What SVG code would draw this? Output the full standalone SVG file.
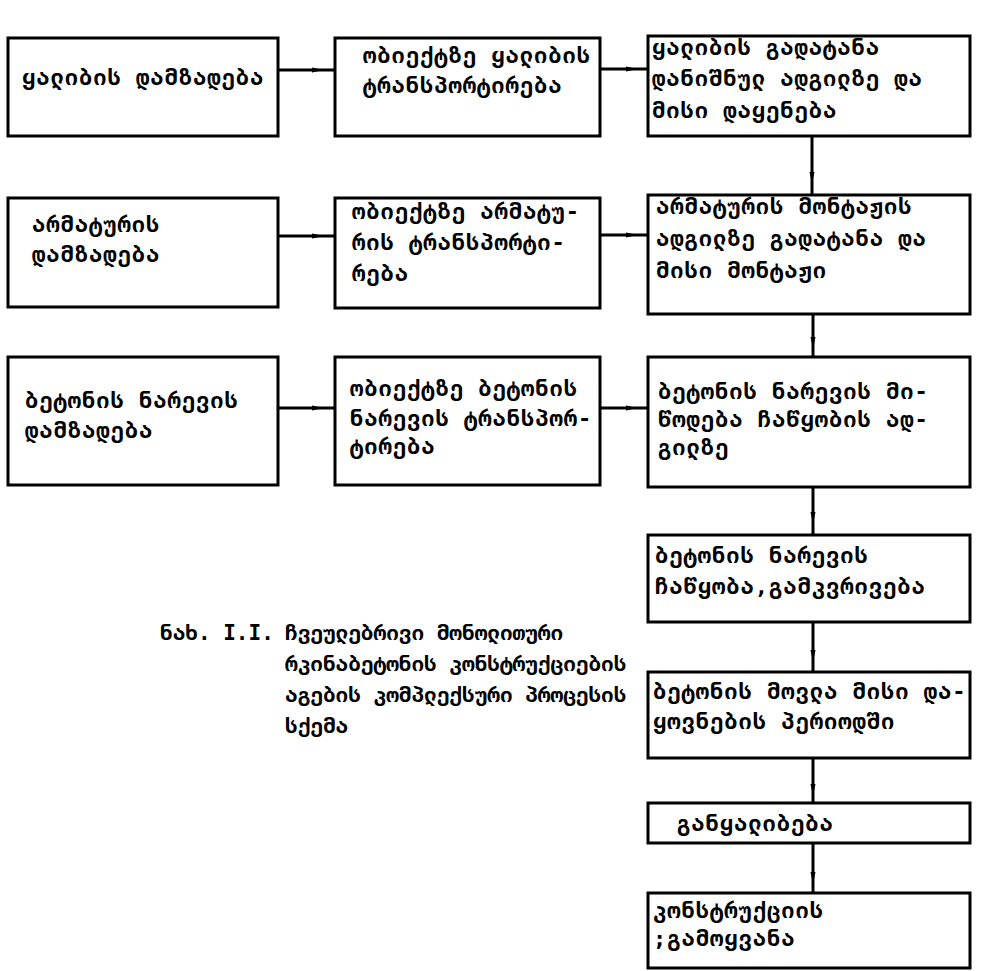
<svg xmlns="http://www.w3.org/2000/svg" width="982" height="971" viewBox="0 0 982 971">
<style>
.box{fill:#fff;stroke:#000;stroke-width:3}
.t{font-family:"DejaVu Sans Mono","DejaVu Sans",monospace;font-size:22px;font-weight:bold;letter-spacing:1px;fill:#000}
.c{font-family:"DejaVu Sans Mono","DejaVu Sans",monospace;font-size:21px;font-weight:bold;fill:#000}
.ln{fill:none;stroke:#000;stroke-width:3;marker-mid:url(#ah)}
</style>
<defs>
<marker id="ah" viewBox="0 0 12 6" refX="6" refY="3" markerWidth="12" markerHeight="6" markerUnits="userSpaceOnUse" orient="auto"><path d="M0,0.5 L12,3 L0,5.5 Z" fill="#000"/></marker>
</defs>
<rect width="982" height="971" fill="#fff"/>
<g id="connectors">
<path class="ln" d="M278,70 L318,70 L335,70"/>
<path class="ln" d="M600,69 L632,69 L648,69"/>
<path class="ln" d="M278,236 L318,236 L335,236"/>
<path class="ln" d="M600,235 L632,235 L648,235"/>
<path class="ln" d="M278,408 L318,408 L335,408"/>
<path class="ln" d="M600,408 L632,408 L648,408"/>
<path class="ln" d="M812,136 L812,178 L812,196"/>
<path class="ln" d="M813,314 L813,343 L813,357"/>
<path class="ln" d="M813,487 L813,518 L813,535"/>
<path class="ln" d="M813,622 L813,656 L813,672"/>
<path class="ln" d="M813,758 L813,790 L813,803"/>
<path class="ln" d="M813,843 L813,878 L813,893"/>
</g>
<g id="n1"><rect class="box" x="8" y="38" width="270" height="98"/><text class="t" x="22" y="85">ყალიბის დამზადება</text></g>
<g id="n2"><rect class="box" x="335" y="38" width="265" height="98"/><text class="t" x="363" y="63">ობიექტზე ყალიბის</text><text class="t" x="363" y="93">ტრანსპორტირება</text></g>
<g id="n3"><rect class="box" x="648" y="36" width="322" height="100"/><text class="t" x="652" y="55">ყალიბის გადატანა</text><text class="t" x="652" y="86">დანიშნულ ადგილზე და</text><text class="t" x="652" y="118">მისი დაყენება</text></g>
<g id="n4"><rect class="box" x="8" y="198" width="270" height="109"/><text class="t" x="32" y="232">არმატურის</text><text class="t" x="32" y="262">დამზადება</text></g>
<g id="n5"><rect class="box" x="335" y="198" width="265" height="110"/><text class="t" x="352" y="219">ობიექტზე არმატუ-</text><text class="t" x="352" y="250">რის ტრანსპორტი-</text><text class="t" x="352" y="281">რება</text></g>
<g id="n6"><rect class="box" x="648" y="195" width="322" height="119"/><text class="t" x="656" y="214">არმატურის მონტაჟის</text><text class="t" x="656" y="246">ადგილზე გადატანა და</text><text class="t" x="656" y="278">მისი მონტაჟი</text></g>
<g id="n7"><rect class="box" x="8" y="357" width="270" height="128"/><text class="t" x="25" y="408">ბეტონის ნარევის</text><text class="t" x="25" y="438">დამზადება</text></g>
<g id="n8"><rect class="box" x="335" y="357" width="265" height="128"/><text class="t" x="350" y="396">ობიექტზე ბეტონის</text><text class="t" x="350" y="426">ნარევის ტრანსპორ-</text><text class="t" x="350" y="454">ტირება</text></g>
<g id="n9"><rect class="box" x="648" y="357" width="322" height="130"/><text class="t" x="658" y="399">ბეტონის ნარევის მი-</text><text class="t" x="658" y="427">წოდება ჩაწყობის ად-</text><text class="t" x="658" y="455">გილზე</text></g>
<g id="n10"><rect class="box" x="648" y="535" width="322" height="87"/><text class="t" x="655" y="563">ბეტონის ნარევის</text><text class="t" x="655" y="594">ჩაწყობა,გამკვრივება</text></g>
<g id="n11"><rect class="box" x="648" y="672" width="322" height="86"/><text class="t" x="653" y="699">ბეტონის მოვლა მისი და-</text><text class="t" x="653" y="729">ყოვნების პერიოდში</text></g>
<g id="n12"><rect class="box" x="648" y="803" width="322" height="40"/><text class="t" x="677" y="831">განყალიბება</text></g>
<g id="n13"><rect class="box" x="648" y="893" width="322" height="75"/><text class="t" x="653" y="918">კონსტრუქციის</text><text class="t" x="653" y="946">;გამოყვანა</text></g>
<g id="caption">
<text class="c" x="160" y="640">ნახ. I.I.</text>
<text class="c" x="285" y="640">ჩვეულებრივი მონოლითური</text>
<text class="c" x="285" y="671">რკინაბეტონის კონსტრუქციების</text>
<text class="c" x="285" y="702">აგების კომპლექსური პროცესის</text>
<text class="c" x="285" y="733">სქემა</text>
</g>
</svg>
